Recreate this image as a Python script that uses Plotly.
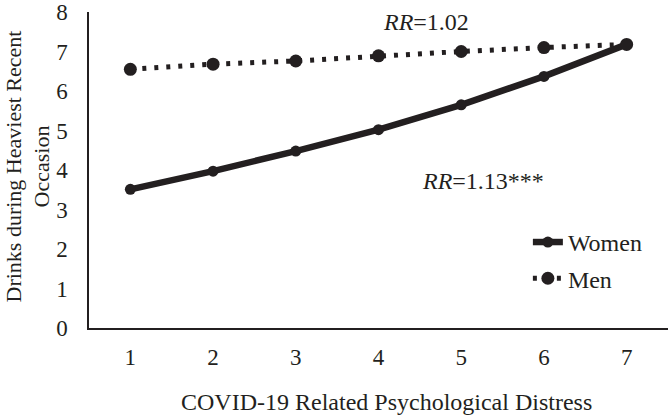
import plotly.graph_objects as go

distress = [1, 2, 3, 4, 5, 6, 7]
women = [3.51, 3.97, 4.48, 5.02, 5.65, 6.37, 7.18]
men = [6.55, 6.68, 6.76, 6.89, 7.00, 7.10, 7.18]
y_ticks = [0, 1, 2, 3, 4, 5, 6, 7, 8]

INK = "#231f20"
FONT = "Liberation Serif, Times New Roman, serif"

fig = go.Figure()
fig.add_trace(go.Scatter(
    x=distress, y=women, name="Women", mode="lines+markers",
    line=dict(color=INK, width=6.5),
    marker=dict(color=INK, size=11),
    legendgroup="w",
))
fig.add_trace(go.Scatter(
    x=distress, y=men, name="Men", mode="lines+markers",
    line=dict(color=INK, width=5, dash="4px,8px"),
    marker=dict(color=INK, size=13),
    legendgroup="m",
))

fig.update_layout(
    width=669, height=417,
    margin=dict(l=89, r=1, t=12, b=89, autoexpand=False),
    paper_bgcolor="white", plot_bgcolor="white",
    font=dict(family=FONT, size=22, color=INK),
    showlegend=True,
    legend=dict(x=0.758, y=0.342, xanchor="left", yanchor="top",
                bgcolor="rgba(0,0,0,0)", tracegroupgap=2,
                font=dict(size=24)),
    xaxis=dict(range=[0.5, 7.5], tickvals=distress, ticktext=[str(v) for v in distress],
               showgrid=False, zeroline=False, showline=True, linecolor=INK, linewidth=2,
               ticks="", ticklabelstandoff=7, tickfont=dict(size=23), automargin=False,
               ticklabeloverflow="allow"),
    yaxis=dict(range=[0, 8], tickvals=y_ticks, showgrid=False, zeroline=False,
               showline=True, linecolor=INK, linewidth=1.5, ticks="",
               ticklabelstandoff=15, tickfont=dict(size=23), automargin=False,
               ticklabeloverflow="allow"),
    annotations=[
        dict(text="Drinks during Heaviest Recent<br>Occasion", textangle=-90,
             xref="paper", yref="paper", x=-0.106, y=0.51, xanchor="center", yanchor="middle",
             showarrow=False, font=dict(size=22)),
        dict(text="COVID-19 Related Psychological Distress", xref="paper", yref="paper",
             x=0.514, y=-0.233, xanchor="center", yanchor="middle", showarrow=False,
             font=dict(size=24)),
        dict(text="<i>RR</i>=1.02", xref="x", yref="y", x=4.58, y=7.74,
             xanchor="center", yanchor="middle", showarrow=False, font=dict(size=24)),
        dict(text="<i>RR</i>=1.13***", xref="x", yref="y", x=5.26, y=3.73,
             xanchor="center", yanchor="middle", showarrow=False, font=dict(size=24)),
    ],
)

fig.write_html("out.html", config={"displayModeBar": False},
               post_script="document.body.style.margin='0';document.body.style.padding='0';")
